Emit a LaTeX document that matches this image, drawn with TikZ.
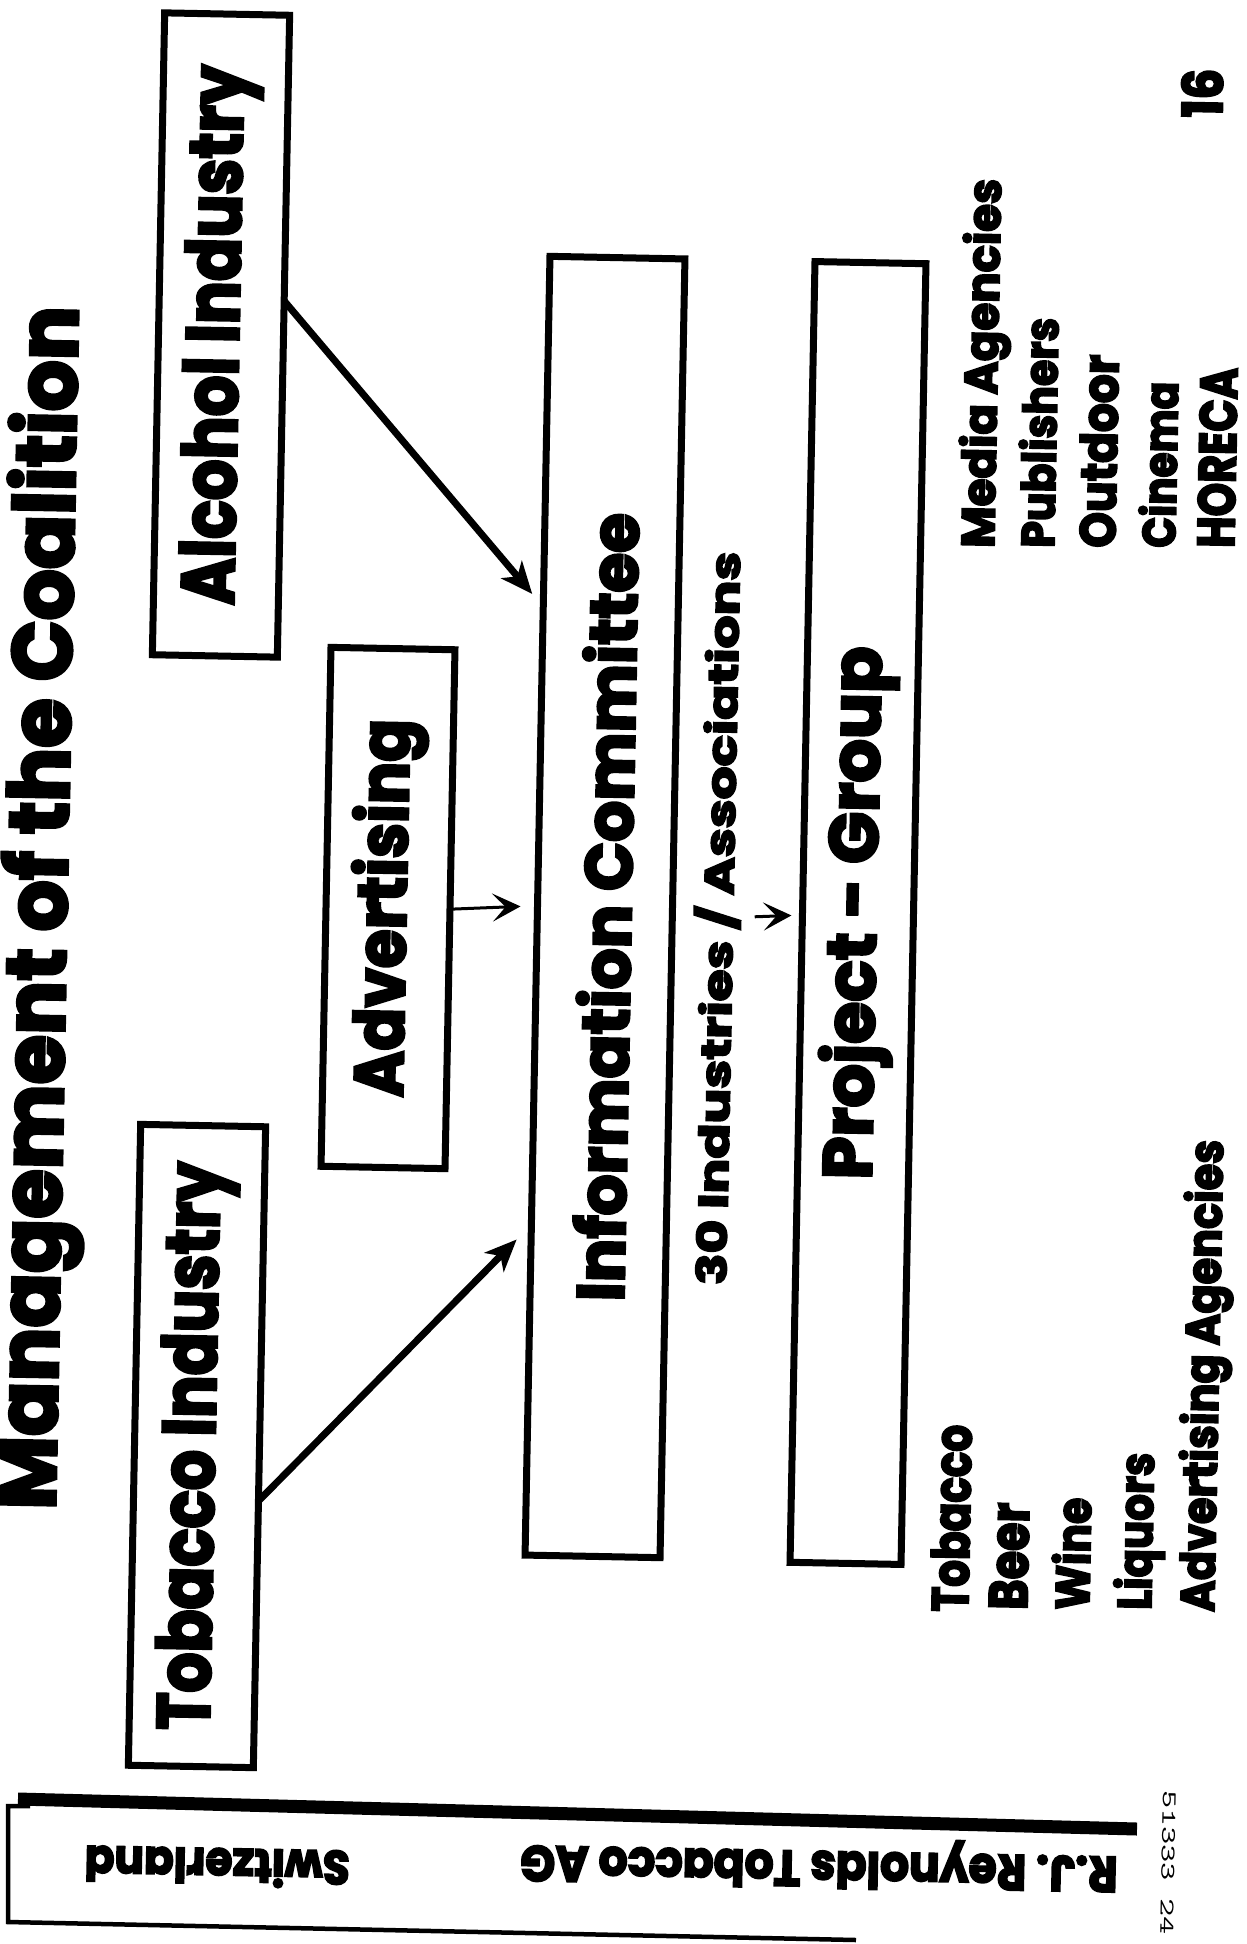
\documentclass[tikz,border=0pt]{standalone}
\usepackage{fontspec}
\setmainfont{Poppins}[BoldFeatures={FakeBold=4}]
\usepackage{graphicx}
\usetikzlibrary{arrows.meta,calc}

% set a label to an exact length and letter height
\newcommand{\fitlabel}[3]{\resizebox{#1pt}{#2pt}{#3}}

\begin{document}
\begin{tikzpicture}[x=1pt,y=-1pt,
  font=\bfseries,
  every node/.style={inner sep=0pt, outer sep=0pt},
  panel/.style={draw, line width=7pt, rotate=88.9},
  vtext/.style={rotate=88.9, anchor=base west},
  flipped/.style={rotate=178.9, anchor=base west},
  heavyarrow/.style={line width=7pt, -{Stealth[length=32pt,width=27pt,inset=9pt]}},
  lightarrow/.style={line width=3pt, -{Stealth[length=28pt,width=28pt,inset=13pt]}},
]
\useasboundingbox (0,0) rectangle (1247,1944);
\fill[white] (0,0) rectangle (1247,1944);

% title
\node[vtext] (title) at (55,1510) {\fitlabel{1203}{67}{Management of the Coalition}};

% boxes
\node[panel, minimum width=642pt, minimum height=125pt] (alc) at (221,335)
  {\fitlabel{540}{55}{Alcohol Industry}};
\node[panel, minimum width=519pt, minimum height=124pt] (adv) at (388,908)
  {\fitlabel{378}{55}{Advertising}};
\node[panel, minimum width=641pt, minimum height=125pt] (tob) at (197,1446)
  {\fitlabel{568}{55}{Tobacco Industry}};
\node[panel, minimum width=1299pt, minimum height=135pt] (info) at (605,907)
  {\fitlabel{788}{53}{Information Committee}};
\node[panel, minimum width=1301pt, minimum height=111pt] (proj) at (858,913)
  {\fitlabel{533}{55}{Project - Group}};

\node[vtext] (ind) at (726,1285) {\fitlabel{733}{39}{30 Industries / Associations}};

% member lists
\node[vtext] (l1) at (968,1612) {\fitlabel{187}{38}{Tobacco}};
\node[vtext] (l2) at (1027,1610) {\fitlabel{107}{38}{Beer}};
\node[vtext] (l3) at (1089,1610) {\fitlabel{112}{38}{Wine}};
\node[vtext] (l4) at (1151,1610) {\fitlabel{157}{38}{Liquors}};
\node[vtext] (l5) at (1214,1612) {\fitlabel{472}{38}{Advertising Agencies}};

\node[vtext] (r1) at (994,548) {\fitlabel{369}{37}{Media Agencies}};
\node[vtext] (r2) at (1054,548) {\fitlabel{230}{37}{Publishers}};
\node[vtext] (r3) at (1115,548) {\fitlabel{193}{37}{Outdoor}};
\node[vtext] (r4) at (1175,548) {\fitlabel{166}{37}{Cinema}};
\node[vtext] (r5) at (1234,548) {\fitlabel{180}{37}{HORECA}};

\node[vtext] (pagenum) at (1222,118) {\fitlabel{49}{41}{16}};

% connectors
\draw[heavyarrow, shorten >=21pt]
  ($(tob.south)!0.168!(tob.south west)$) -- ($(info.north)!0.491!(info.north west)$);
\draw[heavyarrow, shorten >=17pt]
  ($(alc.south)!0.11!(alc.south east)$) -- ($(info.north)!0.46!(info.north east)$);
\draw[lightarrow, shorten >=17pt] (adv.south) -- (info.north);
\draw[lightarrow, shorten <=14pt, shorten >=11pt] (ind) -- (proj);

% footer strip
\draw[line width=13pt] (18,1799) -- (1137,1829);
\draw[line width=4.5pt] (30,1806) -- (8,1806) -- (8,1922) -- (856,1940);
\node[flipped] (country) at (350,1851) {\fitlabel{265}{38}{Switzerland}};
\node[flipped] (firm) at (1118,1857) {\fitlabel{597}{37}{R.J. Reynolds Tobacco AG}};
\node[rotate=-91.1, anchor=base west, font=\ttfamily] (serial) at (1163,1790)
  {\fitlabel{145}{13}{51333 24}};
\end{tikzpicture}
\end{document}
